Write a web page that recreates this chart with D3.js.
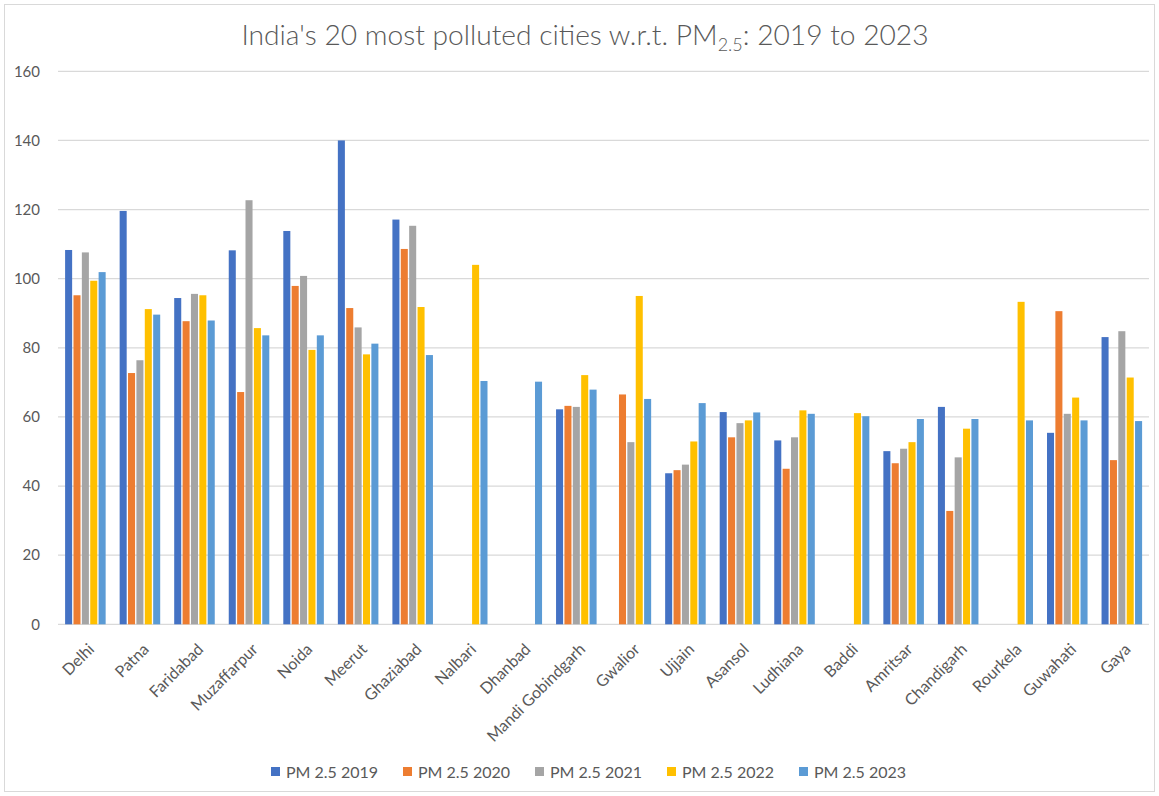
<!DOCTYPE html>
<html>
<head>
<meta charset="utf-8">
<script src="https://cdn.jsdelivr.net/npm/d3@7"></script>
<style>
  html, body { margin: 0; padding: 0; background: #fff; }
  svg { display: block; }
  text { font-family: Lato, "Open Sans", sans-serif; fill: #595959; }
</style>
</head>
<body>
<svg id="chart" width="1159" height="796"></svg>
<script>
const cities = ["Delhi","Patna","Faridabad","Muzaffarpur","Noida","Meerut","Ghaziabad","Nalbari","Dhanbad","Mandi Gobindgarh","Gwalior","Ujjain","Asansol","Ludhiana","Baddi","Amritsar","Chandigarh","Rourkela","Guwahati","Gaya"];
const seriesNames = ["PM 2.5 2019","PM 2.5 2020","PM 2.5 2021","PM 2.5 2022","PM 2.5 2023"];
const pm2019 = [108.3,119.6,94.4,108.2,113.8,140.0,117.1,null,null,62.2,null,43.7,61.4,53.2,null,50.1,62.9,null,55.4,83.1];
const pm2020 = [95.2,72.7,87.7,67.2,97.9,91.5,108.6,null,null,63.2,66.5,44.6,54.1,45.0,null,46.6,32.8,null,90.6,47.5];
const pm2021 = [107.6,76.4,95.6,122.7,100.8,85.9,115.3,null,null,62.9,52.7,46.2,58.2,54.1,null,50.8,48.3,null,60.9,84.8];
const pm2022 = [99.4,91.2,95.2,85.7,79.4,78.1,91.8,104.0,null,72.1,95.0,52.9,59.0,61.9,61.1,52.7,56.6,93.3,65.6,71.4];
const pm2023 = [101.9,89.6,87.9,83.6,83.6,81.2,77.9,70.4,70.2,67.9,65.2,64.0,61.3,60.9,60.2,59.4,59.4,59.0,59.0,58.8];
const yTicks = [0,20,40,60,80,100,120,140,160];
const colors = ["#4472C4","#ED7D31","#A5A5A5","#FFC000","#5B9BD5"];

const allSeries = [pm2019, pm2020, pm2021, pm2022, pm2023];

const svg = d3.select("#chart");
// chart frame
svg.append("rect").attr("x",4.5).attr("y",4.5).attr("width",1150).attr("height",787)
  .attr("fill","#fff").attr("stroke","#d9d9d9").attr("stroke-width",1);

const plot = {left: 58, right: 1149, top: 71.3, bottom: 624.3};

const y = d3.scaleLinear().domain([0,160]).range([plot.bottom, plot.top]);
const x0 = d3.scaleBand().domain(cities).range([plot.left, plot.right]).padding(0);
const x1 = d3.scaleBand().domain(d3.range(5)).range([7.1, x0.bandwidth()-6.9]).paddingInner(0.16).paddingOuter(0);

// gridlines
svg.append("g").selectAll("line").data(yTicks).join("line")
  .attr("x1", plot.left).attr("x2", plot.right)
  .attr("y1", d => y(d)).attr("y2", d => y(d))
  .attr("stroke", "#d9d9d9").attr("stroke-width", 1.3);

// y axis labels
const yAxis = d3.axisLeft(y).tickValues(yTicks).tickSize(0).tickPadding(18);
const gy = svg.append("g").attr("transform", `translate(${plot.left},0)`).call(yAxis);
gy.select(".domain").remove();
gy.selectAll("text").style("font-size","15px").attr("fill","#595959")
  .style("font-family","Lato, 'Open Sans', sans-serif");

// bars
const groups = svg.append("g").selectAll("g").data(cities).join("g")
  .attr("transform", d => `translate(${x0(d)},0)`);
groups.selectAll("rect")
  .data((c, i) => allSeries.map((s, k) => ({k, v: s[i]})).filter(d => d.v != null))
  .join("rect")
  .attr("x", d => x1(d.k))
  .attr("width", x1.bandwidth())
  .attr("y", d => y(d.v))
  .attr("height", d => y(0) - y(d.v))
  .attr("fill", d => colors[d.k]);

// x axis labels (rotated -45deg)
svg.append("g").selectAll("text").data(cities).join("text")
  .attr("text-anchor","end")
  .style("font-size","16px")
  .attr("transform", d => `translate(${x0(d) + x0.bandwidth()/2 + 10},${plot.bottom + 26}) rotate(-45)`)
  .text(d => d);

// title
const title = svg.append("text").attr("x", 585).attr("y", 45).attr("text-anchor","middle")
  .style("font-size","28.2px").style("font-weight","300").attr("fill","#595959");
title.append("tspan").text("India's 20 most polluted cities w.r.t. PM");
title.append("tspan").attr("dy", 6).style("font-size","18px").text("2.5");
title.append("tspan").attr("dy", -6).text(": 2019 to 2023");

// legend
const legendX = [271, 403, 535, 667, 799];
const lg = svg.append("g").selectAll("g").data(seriesNames).join("g")
  .attr("transform", (d,i) => `translate(${legendX[i]},772)`);
lg.append("rect").attr("x",0).attr("y",-5).attr("width",9).attr("height",9).attr("fill",(d,i)=>colors[i]);
lg.append("text").attr("x",15).attr("y",5.5).style("font-size","16px").text(d=>d);
</script>
</body>
</html>
